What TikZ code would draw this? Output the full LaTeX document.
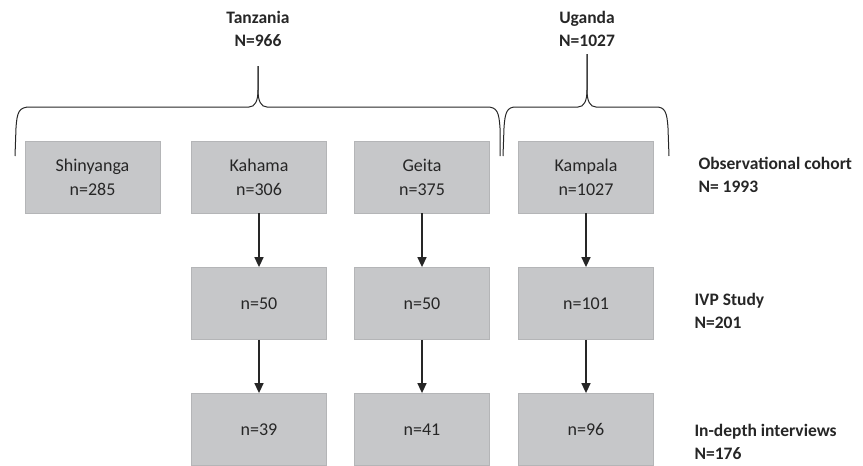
\documentclass[tikz,border=0pt]{standalone}
\usepackage{fontspec}
\setmainfont{Carlito}
\usetikzlibrary{arrows.meta}
\definecolor{boxfill}{HTML}{C6C7C9}
\definecolor{boxline}{HTML}{B4B5B7}
\definecolor{ink}{HTML}{262626}
\tikzset{
  boxn/.style={draw=boxline, line width=0.8pt, fill=boxfill, minimum width=135pt, minimum height=72pt,
    inner sep=0pt, align=center, text=ink, font=\fontsize{18}{24}\selectfont},
  arr/.style={-{Triangle[width=9pt,length=10pt]}, line width=1.5pt, draw=ink},
  brace/.style={draw=ink, line width=1pt},
  head/.style={align=center, text=ink, font=\fontsize{17.5}{23}\selectfont\bfseries},
  side/.style={align=left, anchor=west, text=ink, font=\fontsize{17.5}{23}\selectfont\bfseries}
}
\begin{document}
\begin{tikzpicture}[x=1pt,y=-1pt]
\useasboundingbox (0,0) rectangle (863,466);
% row 1
\node[boxn] (shin) at (92.5,177) {Shinyanga\\n=285};
\node[boxn] (kah1) at (259,177) {Kahama\\n=306};
\node[boxn] (gei1) at (422,177) {Geita\\n=375};
\node[boxn] (kam1) at (586,177) {Kampala\\n=1027};
% row 2
\node[boxn] (kah2) at (259,303.5) {n=50};
\node[boxn] (gei2) at (422,303.5) {n=50};
\node[boxn] (kam2) at (586,303.5) {n=101};
% row 3
\node[boxn] (kah3) at (259,429.5) {n=39};
\node[boxn] (gei3) at (422,429.5) {n=41};
\node[boxn] (kam3) at (586,429.5) {n=96};
% arrows
\draw[arr] (kah1) -- (kah2);
\draw[arr] (gei1) -- (gei2);
\draw[arr] (kam1) -- (kam2);
\draw[arr] (kah2) -- (kah3);
\draw[arr] (gei2) -- (gei3);
\draw[arr] (kam2) -- (kam3);
% headings
\node[head] (tz) at (258,29) {Tanzania\\N=966};
\node[head] (ug) at (587,29) {Uganda\\N=1027};
% braces
\coordinate (tztip) at (258,66);
\coordinate (ugtip) at (587,54);
\draw[brace] (15,156) -- (16,128) .. controls (17,112) and (19,107) .. (30,107) -- (249,107)
  .. controls (255,107) and (258,101) .. (258,90) -- (tztip);
\draw[brace] (tztip) -- (258,90) .. controls (258,101) and (261,107) .. (267,107) -- (487,107)
  .. controls (497,107) and (499,112) .. (500,128) -- (500,156);
\draw[brace] (503,156) -- (504,128) .. controls (505,112) and (507,107) .. (516,107) -- (578,107)
  .. controls (584,107) and (587,101) .. (587,90) -- (ugtip);
\draw[brace] (ugtip) -- (587,90) .. controls (587,101) and (590,107) .. (596,107) -- (656,107)
  .. controls (665,107) and (667,112) .. (668,128) -- (669,156);
% side labels
\node[side] (obs) at (695,175) {Observational cohort\\N= 1993};
\node[side] (ivp) at (691,311) {IVP Study\\N=201};
\node[side] (idi) at (691,442) {In-depth interviews\\N=176};
\end{tikzpicture}
\end{document}
